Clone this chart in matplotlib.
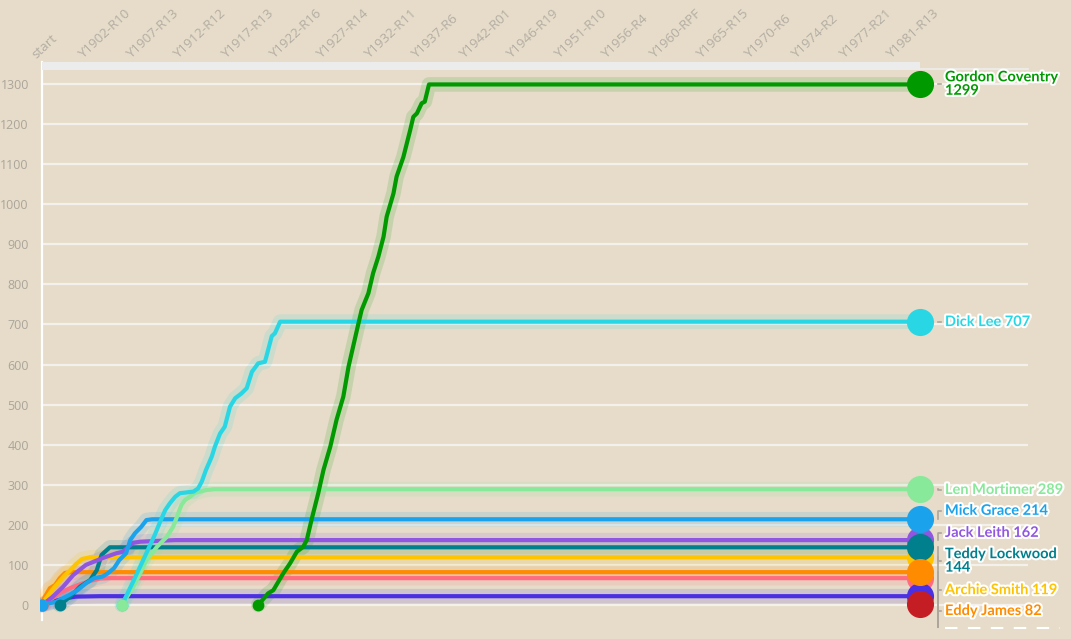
import matplotlib
matplotlib.use("Agg")
import matplotlib.pyplot as plt
import matplotlib.patheffects as pe
import matplotlib.transforms as mtransforms

# x = round index since the start, y = cumulative goals
tick_labels = ["start", "Y1902-R10", "Y1907-R13", "Y1912-R12", "Y1917-R13", "Y1922-R16",
               "Y1927-R14", "Y1932-R11", "Y1937-R6", "Y1942-R01", "Y1946-R19", "Y1951-R10",
               "Y1956-R4", "Y1960-RPF", "Y1965-R15", "Y1970-R6", "Y1974-R2", "Y1977-R21",
               "Y1981-R13"]
tick_step = 91
last_round = 1681

gordon_x = [414, 433, 443, 462, 475, 488, 500, 507, 516, 529, 539, 552, 564, 577, 587, 603,
            612, 625, 634, 644, 654, 660, 673, 679, 692, 705, 711, 718, 727, 733, 741, 1681]
gordon_y = [0, 29, 37, 79, 104, 133, 145, 162, 212, 279, 337, 395, 462, 520, 595, 686,
            736, 778, 828, 869, 919, 969, 1027, 1069, 1118, 1185, 1218, 1227, 1252, 1256, 1299, 1299]

dick_x = [153, 174, 193, 216, 226, 236, 245, 255, 264, 290, 299, 306, 314, 325, 331, 341,
          350, 360, 370, 382, 392, 402, 414, 427, 440, 446, 456, 1681]
dick_y = [0, 57, 110, 175, 207, 237, 254, 270, 279, 283, 291, 308, 337, 370, 395, 428,
          445, 495, 516, 528, 541, 582, 603, 607, 671, 678, 707, 707]

len_x = [153, 175, 188, 200, 220, 239, 251, 261, 267, 274, 283, 293, 315, 330, 1681]
len_y = [0, 46, 79, 112, 145, 170, 195, 229, 250, 262, 270, 280, 287, 289, 289]

mick_x = [0, 27, 52, 68, 84, 100, 116, 126, 138, 148, 161, 169, 178, 190, 200, 211, 1681]
mick_y = [0, 8, 25, 37, 54, 67, 71, 79, 92, 112, 129, 162, 179, 195, 212, 214, 214]

jack_x = [0, 20, 40, 60, 84, 116, 142, 155, 174, 188, 220, 255, 1681]
jack_y = [0, 20, 45, 75, 100, 117, 129, 133, 155, 158, 160, 162, 162]

teddy_x = [34, 54, 73, 92, 105, 114, 124, 130, 1681]
teddy_y = [0, 21, 46, 62, 87, 125, 137, 144, 144]

archie_x = [0, 8, 19, 31, 42, 54, 65, 77, 92, 1681]
archie_y = [0, 17, 37, 55, 72, 87, 102, 115, 119, 119]

eddy_x = [0, 4, 15, 25, 34, 44, 54, 1681]
eddy_y = [0, 17, 42, 50, 67, 80, 82, 82]

pink_x = [0, 15, 34, 54, 73, 92, 111, 130, 1681]
pink_y = [0, 12, 30, 42, 52, 60, 66, 67, 67]

indigo_x = [0, 15, 31, 46, 65, 111, 1681]
indigo_y = [0, 7, 12, 17, 21, 22, 22]

red_final = 2

# (label, colour, x, y, label y position or None when hidden)
series = [
    (None, "#4a2fe3", indigo_x, indigo_y, None),
    (None, "#ff6b7f", pink_x, pink_y, None),
    ("Eddy James 82", "#ff8c00", eddy_x, eddy_y, -15),
    ("Archie Smith 119", "#ffc400", archie_x, archie_y, 37),
    ("Teddy Lockwood\n144", "#007f8c", teddy_x, teddy_y, 110),
    ("Jack Leith 162", "#9156e0", jack_x, jack_y, 180),
    ("Mick Grace 214", "#1aa3ec", mick_x, mick_y, 235),
    ("Len Mortimer 289", "#88e99a", len_x, len_y, 287),
    ("Dick Lee 707", "#29d7e4", dick_x, dick_y, 706),
    ("Gordon Coventry\n1299", "#009a00", gordon_x, gordon_y, 1300),
]
circle_order = [5, 3, 1, 0, 6, 4, 2, 7, 8, 9]
start_order = [0, 1, 2, 3, 5, 6, 4, 8, 7, 9]

bg = "#e6dcc9"
plt.rcParams["font.family"] = ["Open Sans", "DejaVu Sans"]

fig = plt.figure(figsize=(10.71, 6.39), dpi=100, facecolor=bg)
ax = fig.add_axes([40 / 1071, 1 - 620 / 639, 988 / 1071, 554 / 639])
ax.set_facecolor(bg)
ax.set_xlim(-3.8, 1888)
ax.set_ylim(-37.4, 1345)
for s in ax.spines.values():
    s.set_visible(False)

# grid
for v in range(0, 1301, 100):
    ax.axhline(v, xmin=2 / 988, xmax=1, color="#f4f1ec", lw=1.6, zorder=1)

# left axis line + top domain band
ax.plot([0.002, 0.002], [0, 1.007], transform=ax.transAxes, color="white", lw=1.6,
        clip_on=False, zorder=1)
trans_top = mtransforms.blended_transform_factory(ax.transData, ax.transAxes)
ax.plot([0, last_round], [1, 1], transform=trans_top, color="#ececec", lw=5.8,
        solid_capstyle="butt", clip_on=False, zorder=1)
ax.plot([last_round, 1888], [0.994, 0.994], transform=trans_top, color="#eeeeee", lw=1.2,
        clip_on=False, zorder=1)

ax.set_yticks(range(0, 1301, 100))
ax.set_xticks([])
ax.tick_params(axis="y", length=0, pad=8, labelcolor="#aba59a", labelsize=9)

lab_trans = mtransforms.offset_copy(trans_top, fig=fig, x=-6, y=7, units="dots")
for k, lab in enumerate(tick_labels):
    ax.text(k * tick_step, 1.0, lab, transform=lab_trans, rotation=43,
            rotation_mode="anchor", ha="left", va="baseline", fontsize=9.6,
            color="#b3ada3", clip_on=False)

# lines with halo
for name, col, xs, ys, ly in series:
    ax.plot(xs, ys, color=col, lw=10.5, alpha=0.14, solid_joinstyle="round",
            solid_capstyle="round", zorder=2)
    ax.plot(xs, ys, color=col, lw=3, solid_joinstyle="round", zorder=3)

# start dots
for i in start_order:
    name, col, xs, ys, ly = series[i]
    ax.plot(xs[0], ys[0], "o", ms=7.5, color=col, zorder=4)

# end circles
for i in circle_order:
    name, col, xs, ys, ly = series[i]
    ax.plot(xs[-1], ys[-1], "o", ms=18.5, color=col, zorder=6, clip_on=False)
ax.plot(last_round, red_final, "o", ms=18.5, color="#c41e24", zorder=6, clip_on=False)

# connectors and labels
cx0, cx1, tx = 1716, 1722, 1729
for name, col, xs, ys, ly in series:
    if ly is None:
        ax.plot([cx0, cx0], [ys[-1], -55], color="#aca69c", lw=1.2, clip_on=False, zorder=5)
        continue
    ax.plot([cx0, cx0, cx1], [ys[-1], ly, ly], color="#aca69c", lw=1.2,
            clip_on=False, zorder=5)
    ax.text(tx, ly, name, color=col, fontsize=10.5, fontweight="bold", family=["Lato", "DejaVu Sans"],
            ha="left", va="center", linespacing=0.95, clip_on=False, zorder=7,
            path_effects=[pe.withStroke(linewidth=3, foreground="white")])
ax.plot([cx0, cx0], [red_final, -55], color="#aca69c", lw=1.2, clip_on=False, zorder=5)
ax.plot([1729, 1949], [-57, -57], color="white", lw=1.5, dashes=(6, 5), clip_on=False)

fig.savefig("out.png", dpi=100, facecolor=bg)
